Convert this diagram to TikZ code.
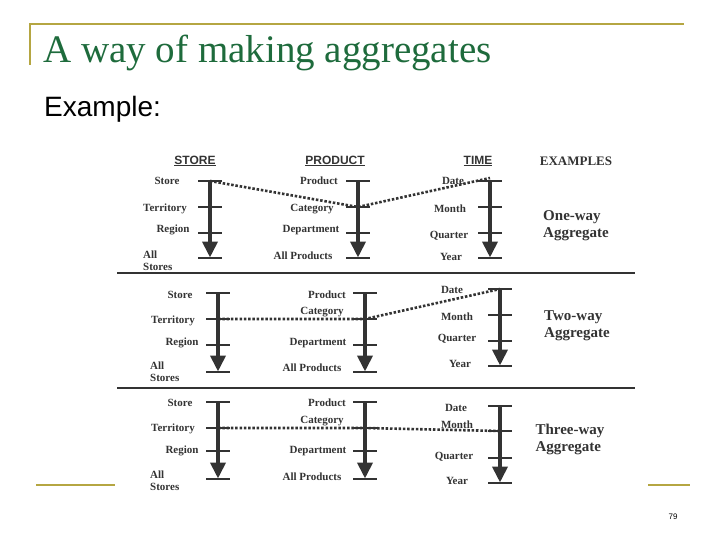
\documentclass[tikz,border=0pt]{standalone}
\usepackage{fontspec}
\setmainfont{Liberation Serif}
\newfontfamily\arialf{Liberation Sans}
\usetikzlibrary{arrows.meta}
\definecolor{gold}{HTML}{B5A642}
\definecolor{ttl}{HTML}{1E6B3C}
\definecolor{ink}{HTML}{333333}
\newcommand{\myaxis}[6]{%
  \coordinate (#1a) at (#2,#3); \coordinate (#1b) at (#2,#4);
  \coordinate (#1c) at (#2,#5); \coordinate (#1d) at (#2,#6);
  \foreach \t in {a,b,c,d}{\draw[tick] ([xshift=-12pt]#1\t) -- ([xshift=12pt]#1\t);}
  \draw[axarrow] (#1a) -- (#1d);}
\begin{document}
\begin{tikzpicture}[x=1pt,y=-1pt,
  tick/.style={ink,line width=1.6pt},
  axarrow/.style={ink,line width=3.8pt,-{Triangle[width=15pt,length=16pt]},shorten >=0.5pt},
  lbl/.style={font=\fontsize{11}{12}\selectfont\bfseries,text=ink,inner sep=0pt},
  hdr/.style={font=\arialf\fontsize{12}{13}\selectfont\bfseries,text=ink,inner sep=1pt},
  ex/.style={font=\fontsize{15}{17}\selectfont\bfseries,text=ink,align=left,inner sep=0pt},
  dots/.style={ink,line width=2.6pt,dash pattern=on 2.5pt off 1.8pt},
  div/.style={ink,line width=2pt}]
\useasboundingbox (0,0) rectangle (720,540);
% frame
\draw[gold,line width=2pt] (30,65) -- (30,24) -- (684,24);
\draw[gold,line width=2.5pt] (36,485) -- (115,485);
\draw[gold,line width=2.5pt] (648,485) -- (690,485);
\node[anchor=base west,text=ttl,font=\fontsize{39}{40}\selectfont,inner sep=0pt] (title) at (43,63) {A way of making aggregates};
\node[anchor=base west,font=\arialf\fontsize{28}{29}\selectfont,inner sep=0pt] (exm) at (44,117) {Example:};
\node[font=\arialf\fontsize{8}{9}\selectfont,inner sep=0pt] (pg) at (673,517) {79};
% headers
\node[hdr] (hs) at (195,161) {\underline{STORE}};
\node[hdr] (hp) at (335,161) {\underline{PRODUCT}};
\node[hdr] (ht) at (478,161) {\underline{TIME}};
\node[font=\fontsize{13}{14}\selectfont\bfseries,text=ink] (he) at (576,161) {EXAMPLES};
% section 1
\myaxis{sA}{210}{181}{207}{233}{258}
\myaxis{pA}{358}{181}{207}{233}{258}
\myaxis{tA}{490}{181}{207}{233}{258}
\node[lbl] (l1) at (167,181) {Store};
\node[lbl] (l2) at (165,209) {Territory};
\node[lbl] (l3) at (173,230) {Region};
\node[lbl,anchor=north west,align=left] (l4) at (143,251) {All\\Stores};
\node[lbl] (l5) at (319,181) {Product};
\node[lbl] (l6) at (312,209) {Category};
\node[lbl] (l7) at (311,230) {Department};
\node[lbl] (l8) at (303,256) {All Products};
\node[lbl] (l9) at (453,181) {Date};
\node[lbl] (l10) at (450,209) {Month};
\node[lbl] (l11) at (449,236) {Quarter};
\node[lbl] (l12) at (451,257) {Year};
\node[ex] (e1) at (576,226) {One-way\\Aggregate};
\draw[dots] (sAa) -- (pAb) -- ([yshift=3pt]tAa);
\draw[div] (117,273) -- (635,273);
% section 2
\myaxis{sB}{218}{293}{319}{345}{372}
\myaxis{pB}{365}{293}{319}{345}{372}
\myaxis{tB}{500}{289}{315}{341}{366}
\node[lbl] (m1) at (180,295) {Store};
\node[lbl] (m2) at (173,321) {Territory};
\node[lbl] (m3) at (182,343) {Region};
\node[lbl,anchor=north west,align=left] (m4) at (150,362) {All\\Stores};
\node[lbl] (m5) at (327,295) {Product};
\node[lbl] (m6) at (322,312) {Category};
\node[lbl] (m7) at (318,343) {Department};
\node[lbl] (m8) at (312,368) {All Products};
\node[lbl] (m9) at (452,290) {Date};
\node[lbl] (m10) at (457,317) {Month};
\node[lbl] (m11) at (457,339) {Quarter};
\node[lbl] (m12) at (460,364) {Year};
\node[ex] (e2) at (577,326) {Two-way\\Aggregate};
\draw[dots] (sBb) -- (pBb) -- (tBa);
\draw[div] (117,388) -- (635,388);
% section 3
\myaxis{sC}{218}{402}{428}{451}{479}
\myaxis{pC}{365}{402}{428}{451}{479}
\myaxis{tC}{500}{406}{431}{458}{483}
\node[lbl] (n1) at (180,403) {Store};
\node[lbl] (n2) at (173,429) {Territory};
\node[lbl] (n3) at (182,451) {Region};
\node[lbl,anchor=north west,align=left] (n4) at (150,471) {All\\Stores};
\node[lbl] (n5) at (327,403) {Product};
\node[lbl] (n6) at (322,421) {Category};
\node[lbl] (n7) at (318,451) {Department};
\node[lbl] (n8) at (312,477) {All Products};
\node[lbl] (n9) at (456,408) {Date};
\node[lbl] (n10) at (457,425) {Month};
\node[lbl] (n11) at (454,457) {Quarter};
\node[lbl] (n12) at (457,481) {Year};
\node[ex] (e3) at (570,439) {Three-way\\Aggregate};
\draw[dots] (sCb) -- (pCb) -- (tCb);
\end{tikzpicture}
\end{document}
